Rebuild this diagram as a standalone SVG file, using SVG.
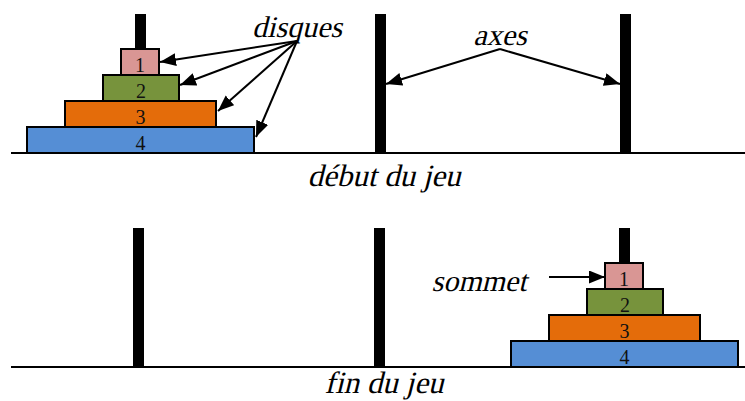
<svg xmlns="http://www.w3.org/2000/svg" width="745" height="401" viewBox="0 0 745 401">
  <style>
    .label { font-family: "Liberation Serif", "Times New Roman", serif; font-style: normal; font-size: 30px; fill: #000; text-anchor: middle; }
    .num { font-family: "Liberation Serif", "Times New Roman", serif; font-size: 20px; fill: #111; text-anchor: middle; }
    .ground { stroke: #000; stroke-width: 2; }
    .peg { fill: #000; }
    .disk { stroke: #000; stroke-width: 2; }
    .d1 { fill: #D99694; }
    .d2 { fill: #77933C; }
    .d3 { fill: #E46C0A; }
    .d4 { fill: #558ED5; }
    .conn { stroke: #000; stroke-width: 2; fill: none; marker-end: url(#arrow); }
  </style>
  <defs>
    <marker id="arrow" markerUnits="userSpaceOnUse" markerWidth="18" markerHeight="14" refX="16" refY="6.5" orient="auto">
      <path d="M0,0 L16,6.5 L0,13 z" fill="#000"/>
    </marker>
  </defs>
  <rect width="745" height="401" fill="#fff"/>

  <!-- Top: début du jeu -->
  <g id="top-ground"><line class="ground" x1="11" y1="153" x2="745" y2="153"/></g>
  <g id="top-peg-1"><rect class="peg" x="135" y="14" width="11" height="139"/></g>
  <g id="top-peg-2"><rect class="peg" x="375" y="14" width="11" height="139"/></g>
  <g id="top-peg-3"><rect class="peg" x="620" y="14" width="11" height="139"/></g>

  <g id="top-disk-4"><rect class="disk d4" x="27" y="127" width="227" height="26"/><text class="num" x="140.5" y="150">4</text></g>
  <g id="top-disk-3"><rect class="disk d3" x="65" y="101" width="151" height="26"/><text class="num" x="140.5" y="124">3</text></g>
  <g id="top-disk-2"><rect class="disk d2" x="103" y="75" width="76" height="26"/><text class="num" x="141" y="98">2</text></g>
  <g id="top-disk-1"><rect class="disk d1" x="121" y="49" width="38" height="26"/><text class="num" x="140" y="72">1</text></g>

  <g id="label-disques"><text class="label" transform="translate(297,37) skewX(-14)">disques</text></g>
  <g id="label-axes"><text class="label" transform="translate(500,45) skewX(-14)">axes</text></g>
  <g id="label-debut"><text class="label" transform="translate(384,186) skewX(-14)" style="font-size:31px">début du jeu</text></g>

  <!-- Bottom: fin du jeu -->
  <g id="bottom-ground"><line class="ground" x1="11" y1="367" x2="745" y2="367"/></g>
  <g id="bottom-peg-1"><rect class="peg" x="133" y="228" width="11" height="139"/></g>
  <g id="bottom-peg-2"><rect class="peg" x="374" y="228" width="11" height="139"/></g>
  <g id="bottom-peg-3"><rect class="peg" x="619" y="228" width="11" height="139"/></g>

  <g id="bottom-disk-4"><rect class="disk d4" x="511" y="341" width="227" height="26"/><text class="num" x="624.5" y="364">4</text></g>
  <g id="bottom-disk-3"><rect class="disk d3" x="549" y="315" width="151" height="26"/><text class="num" x="624.5" y="338">3</text></g>
  <g id="bottom-disk-2"><rect class="disk d2" x="587" y="289" width="76" height="26"/><text class="num" x="625" y="312">2</text></g>
  <g id="bottom-disk-1"><rect class="disk d1" x="605" y="263" width="38" height="26"/><text class="num" x="624" y="286">1</text></g>

  <g id="label-sommet"><text class="label" transform="translate(479,291) skewX(-14)">sommet</text></g>
  <g id="label-fin"><text class="label" transform="translate(384,393) skewX(-14)" style="font-size:31px">fin du jeu</text></g>

  <!-- Connectors -->
  <g id="connectors">
    <line class="conn" x1="297" y1="41" x2="160" y2="62"/>
    <line class="conn" x1="297" y1="41" x2="180" y2="85"/>
    <line class="conn" x1="297" y1="41" x2="218" y2="111"/>
    <line class="conn" x1="297" y1="41" x2="256" y2="137"/>
    <line class="conn" x1="500" y1="49" x2="386" y2="84"/>
    <line class="conn" x1="500" y1="49" x2="620" y2="84"/>
    <line class="conn" x1="549" y1="277" x2="605" y2="277"/>
  </g>
</svg>
